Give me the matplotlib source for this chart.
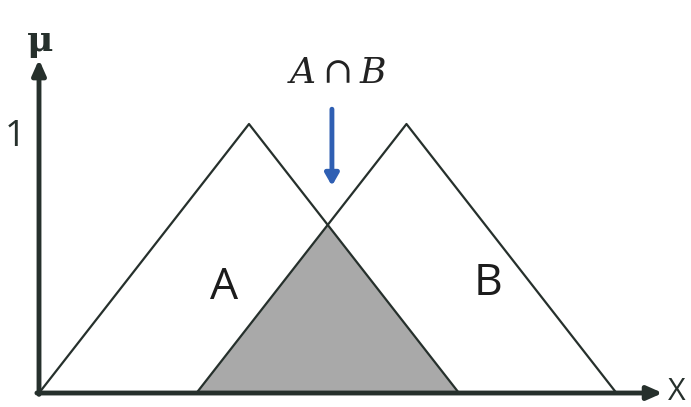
import numpy as np
import matplotlib.pyplot as plt
from matplotlib.patches import Polygon

# membership functions (x in arbitrary units, mu in [0, 1])
a_x = [0, 4, 8]
a_mu = [0, 1, 0]
b_x = [3, 7, 11]
b_mu = [0, 1, 0]

# intersection = min(A, B): crossing of A's falling edge and B's rising edge
x_int = (a_x[2] * (b_x[1] - b_x[0]) + b_x[0] * (a_x[2] - a_x[1])) / ((b_x[1] - b_x[0]) + (a_x[2] - a_x[1]))
mu_int = (a_x[2] - x_int) / (a_x[2] - a_x[1])
inter_x = [b_x[0], x_int, a_x[2]]
inter_mu = [0, mu_int, 0]

dark = '#26302c'

fig = plt.figure(figsize=(6.91, 4.07), dpi=100)
ax = fig.add_axes([0, 0, 1, 1])
ax.set_xlim(-0.743, 12.42)
ax.set_ylim(-0.052, 1.461)
ax.axis('off')

ax.add_patch(Polygon(np.column_stack([inter_x, inter_mu]), closed=True,
                     facecolor='#a9a9a9', edgecolor='none', zorder=1))
ax.plot(a_x, a_mu, color=dark, lw=1.6, zorder=2)
ax.plot(b_x, b_mu, color=dark, lw=1.6, zorder=2)

# axes with arrows
ax.annotate('', xy=(0, 1.24), xytext=(0, -0.005),
            arrowprops=dict(arrowstyle='-|>,head_length=0.9,head_width=0.4',
                            color=dark, lw=3.5, shrinkA=0, shrinkB=0))
ax.annotate('', xy=(11.88, 0), xytext=(-0.04, 0),
            arrowprops=dict(arrowstyle='-|>,head_length=0.9,head_width=0.4',
                            color=dark, lw=3.5, shrinkA=0, shrinkB=0))

ax.text(0.03, 1.31, 'μ', fontsize=26, fontweight='bold', family='DejaVu Serif',
        ha='center', va='center', color=dark)
ax.text(-0.45, 0.95, '1', fontsize=26, family='Open Sans', ha='center', va='center', color=dark)
ax.text(12.15, 0.005, 'X', fontsize=22, family='Open Sans', ha='center', va='center', color=dark)

ax.text(3.52, 0.39, 'A', fontsize=32, family='Open Sans', ha='center', va='center', color='#1c1c1c')
ax.text(8.55, 0.405, 'B', fontsize=32, family='Open Sans', ha='center', va='center', color='#1c1c1c')

ax.text(5.68, 1.19, r'$A\cap B$', fontsize=26, ha='center', va='center', color='#222222',
        math_fontfamily='dejavuserif')
ax.annotate('', xy=(5.58, 0.77), xytext=(5.58, 1.055),
            arrowprops=dict(arrowstyle='-|>,head_length=0.7,head_width=0.4',
                            color='#2f5fb3', lw=3.5, shrinkA=0, shrinkB=0))

fig.savefig('out.png', dpi=100)
